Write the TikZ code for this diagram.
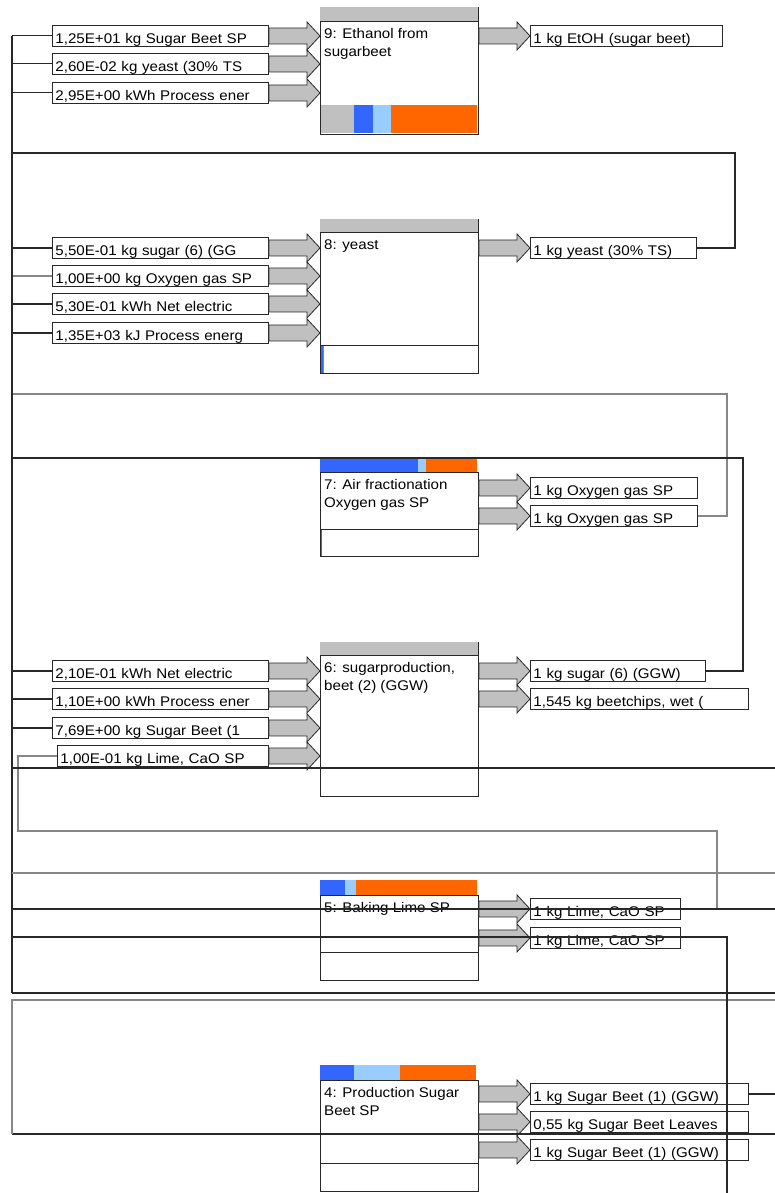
\documentclass[tikz,border=0pt]{standalone}
\usepackage{fontspec}
\setmainfont{Liberation Sans}[FakeStretch=1.08]
\usetikzlibrary{calc}

\definecolor{bargray}{RGB}{192,192,192}
\definecolor{barblue}{RGB}{51,102,255}
\definecolor{barlight}{RGB}{153,204,255}
\definecolor{barorange}{RGB}{255,102,0}
\definecolor{linedark}{RGB}{40,40,40}
\definecolor{linegray}{RGB}{135,135,135}

\tikzset{
  flowlabel/.style={draw=linedark, line width=0.9pt, fill=white, anchor=north west,
    inner xsep=3pt, inner ysep=0pt, text height=18pt, text depth=3pt,
    text width=#1, align=left, font=\fontsize{14}{16}\selectfont},
  procbox/.style={draw=linedark, line width=0.9pt, fill=white, anchor=north west,
    minimum width=158pt, inner sep=0pt},
  proctext/.style={anchor=north west, inner xsep=4pt, inner ysep=7.5pt, align=left,
    font=\fontsize{14}{18}\selectfont},
  boxline/.style={draw=linedark, line width=0.9pt},
  flowarrow/.style={fill=bargray, draw=linedark, line width=0.8pt},
  wire/.style={draw=linedark, line width=1.1pt},
  graywire/.style={draw=linegray, line width=1.4pt}
}

\begin{document}
\begin{tikzpicture}[x=1pt, y=-1pt]
\useasboundingbox (0,0) rectangle (775,1193);

% Process 9: ethanol
\fill[bargray] (320,7) rectangle (478,21);
\draw[boxline] (478,7) -- (478,21);
\node[procbox, minimum height=113pt] (p9) at (320,21) {};
\fill[bargray] (320.5,105) rectangle (354,133.5);
\fill[barblue] (354,105) rectangle (373,133.5);
\fill[barlight] (373,105) rectangle (391,133.5);
\fill[barorange] (391,105) rectangle (477,133.5);
\node[proctext] (t9) at (p9.north west) {9: Ethanol from\\sugarbeet};

\node[flowlabel=210pt] (i9a) at (52,25) {1,25E+01 kg Sugar Beet SP};
\node[flowlabel=210pt] (i9b) at (52,53) {2,60E-02 kg yeast (30\% TS};
\node[flowlabel=210pt] (i9c) at (52,82) {2,95E+00 kWh Process ener};
\node[flowlabel=186pt] (o9) at (530,25) {1 kg EtOH (sugar beet)};

% Process 8: yeast
\fill[bargray] (320,219) rectangle (478,232);
\draw[boxline] (478,219) -- (478,232);
\node[procbox, minimum height=141pt] (p8) at (320,232) {};
\draw[boxline] (320,345) -- (478,345);
\fill[barblue] (320.5,345.5) rectangle (323,372.5);
\fill[barorange] (323,345.5) rectangle (324,372.5);
\node[proctext] (t8) at (p8.north west) {8: yeast};

\node[flowlabel=210pt] (i8a) at (52,237) {5,50E-01 kg sugar (6) (GG};
\node[flowlabel=210pt] (i8b) at (52,265) {1,00E+00 kg Oxygen gas SP};
\node[flowlabel=210pt] (i8c) at (52,293) {5,30E-01 kWh Net electric};
\node[flowlabel=210pt] (i8d) at (52,322) {1,35E+03 kJ Process energ};
\node[flowlabel=160pt] (o8) at (530,237) {1 kg yeast (30\% TS)};

% Process 7: air fractionation
\fill[barblue] (320,458) rectangle (418,472);
\fill[barlight] (418,458) rectangle (426,472);
\fill[barorange] (426,458) rectangle (477,472);
\node[procbox, minimum height=84pt] (p7) at (320,472) {};
\draw[boxline] (320,529) -- (478,529);
\fill[barblue] (320.5,529.5) rectangle (322,555.5);
\node[proctext] (t7) at (p7.north west) {7: Air fractionation\\Oxygen gas SP};

\node[flowlabel=161pt] (o7a) at (530,477) {1 kg Oxygen gas SP};
\node[flowlabel=161pt] (o7b) at (530,505) {1 kg Oxygen gas SP};

% Process 6: sugar production
\fill[bargray] (320,642) rectangle (478,655);
\draw[boxline] (478,642) -- (478,655);
\node[procbox, minimum height=141pt] (p6) at (320,655) {};
\draw[boxline] (320,768) -- (478,768);
\node[proctext] (t6) at (p6.north west) {6: sugarproduction,\\beet (2) (GGW)};

\node[flowlabel=210pt] (i6a) at (52,660) {2,10E-01 kWh Net electric};
\node[flowlabel=210pt] (i6b) at (52,688) {1,10E+00 kWh Process ener};
\node[flowlabel=210pt] (i6c) at (52,717) {7,69E+00 kg Sugar Beet (1};
\node[flowlabel=205pt] (i6d) at (57,745) {1,00E-01 kg Lime, CaO SP};
\node[flowlabel=169pt] (o6a) at (530,660) {1 kg sugar (6) (GGW)};
\node[flowlabel=212pt] (o6b) at (530,688) {1,545 kg beetchips, wet (};

% Process 5: baking lime
\fill[barblue] (320,880) rectangle (345,895);
\fill[barlight] (345,880) rectangle (356,895);
\fill[barorange] (356,880) rectangle (477,895);
\node[procbox, minimum height=85pt] (p5) at (320,895) {};
\draw[boxline] (320,952) -- (478,952);
\node[proctext] (t5) at (p5.north west) {5: Baking Lime SP};

\node[flowlabel=144pt] (o5a) at (530,898) {1 kg Lime, CaO SP};
\node[flowlabel=144pt] (o5b) at (530,927) {1 kg Lime, CaO SP};

% Process 4: sugar beet
\fill[barblue] (320,1065) rectangle (354,1080);
\fill[barlight] (354,1065) rectangle (400,1080);
\fill[barorange] (400,1065) rectangle (476,1080);
\node[procbox, minimum height=111pt] (p4) at (320,1080) {};
\draw[boxline] (320,1134) -- (478,1134);
\draw[boxline] (320,1163) -- (478,1163);
\node[proctext] (t4) at (p4.north west) {4: Production Sugar\\Beet SP};

\node[flowlabel=212pt] (o4a) at (530,1083) {1 kg Sugar Beet (1) (GGW)};
\node[flowlabel=212pt] (o4b) at (530,1111) {0,55 kg Sugar Beet Leaves};
\node[flowlabel=212pt] (o4c) at (530,1139) {1 kg Sugar Beet (1) (GGW)};

% Flow arrows into the processes
\foreach \src/\dst in {i9a/p9,i9b/p9,i9c/p9,i8a/p8,i8b/p8,i8c/p8,i8d/p8,i6a/p6,i6b/p6,i6c/p6,i6d/p6}
  \draw[flowarrow] let \p1=(\src.east), \p2=(\dst.west) in
    (\x1,\y1+8pt) -- (\x2-13pt,\y1+8pt) -- (\x2-13pt,\y1+14pt) -- (\x2,\y1)
    -- (\x2-13pt,\y1-14pt) -- (\x2-13pt,\y1-8pt) -- (\x1,\y1-8pt) -- cycle;

% Flow arrows out of the processes
\foreach \src/\dst in {p9/o9,p8/o8,p7/o7a,p7/o7b,p6/o6a,p6/o6b,p5/o5a,p5/o5b,p4/o4a,p4/o4b,p4/o4c}
  \draw[flowarrow] let \p1=(\src.east), \p2=(\dst.west) in
    (\x1,\y2+8pt) -- (\x2-13pt,\y2+8pt) -- (\x2-13pt,\y2+14pt) -- (\x2,\y2)
    -- (\x2-13pt,\y2-14pt) -- (\x2-13pt,\y2-8pt) -- (\x1,\y2-8pt) -- cycle;

% Routing points
\coordinate (bus) at (12,0);
\coordinate (limebus) at (18,0);
\coordinate (edge) at (775,0);
\coordinate (yeastup) at (735,153);
\coordinate (oxup) at (727,394);
\coordinate (sugup) at (743,458);
\coordinate (limeup) at (717,831);

% Connections
\draw[wire] (o8.east) -| (yeastup) -| (i9b.west -| bus) -- (i9b.west);
\draw[graywire] (o7b.east) -| (oxup) -| (i8b.west -| bus) -- (i8b.west);
\draw[wire] (o6a.east) -| (sugup) -| (i8a.west -| bus) -- (i8a.west);
\draw[graywire] (o5a.east) -| (limeup) -| (i6d.west -| limebus) -- (i6d.west);

\foreach \n in {i9a,i9c,i8c,i8d,i6a,i6b,i6c}
  \draw[wire] (\n.west -| bus) -- (\n.west);

\draw[wire, line width=1.8pt] (i9a.west -| bus) -- (12,993);

% Lines running off the page
\foreach \y in {768,909,993,1134}
  \draw[wire] (12,\y) -- (775,\y);
\draw[graywire] (12,873) -- (775,873);
\draw[graywire] (775,1000) -- (12,1000) -- (12,1134);
\draw[wire] (12,937) -| (727,1193);
\draw[wire] (o4a.east) -- (o4a.east -| edge);

\end{tikzpicture}
\end{document}
